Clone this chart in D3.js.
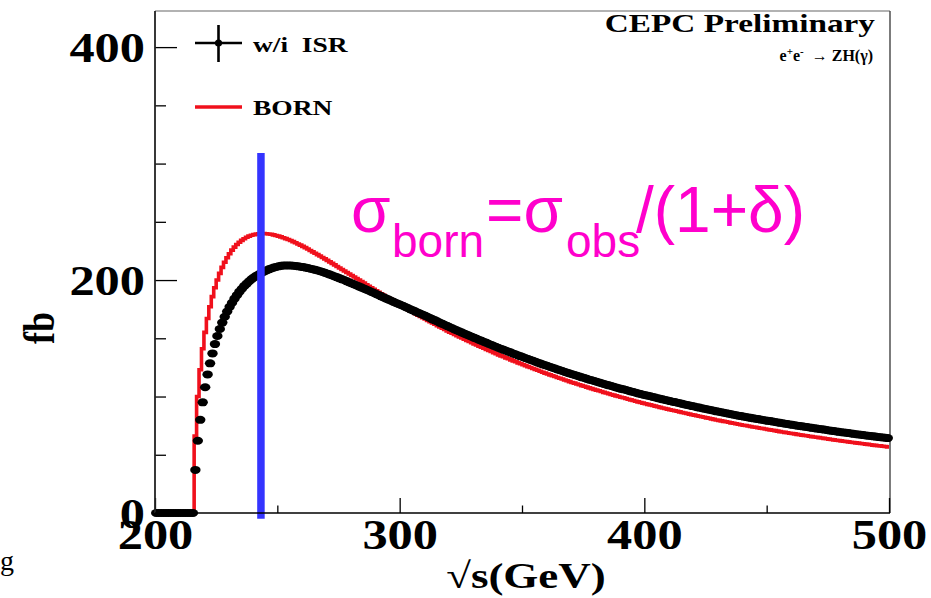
<!DOCTYPE html>
<html>
<head>
<meta charset="utf-8">
<script src="https://cdn.jsdelivr.net/npm/d3@7"></script>
<style>
  html, body { margin: 0; padding: 0; background: #fff; }
  svg { display: block; }
  .serif { font-family: "Liberation Serif", "Times New Roman", serif; font-weight: bold; }
  .sans { font-family: "Liberation Sans", Arial, sans-serif; }
</style>
</head>
<body>
<svg id="chart" width="931" height="598"></svg>
<script>
// ---- data ---------------------------------------------------------------
// 1 GeV wide bins in sqrt(s), first bin starts at 200 GeV
const binStart = 200;
const binWidth = 1;

// Born-level e+e- -> ZH cross section per bin (fb)
const bornXsec = [
  0, 0, 0, 0, 0, 0, 0, 0, 0, 0, 0, 0, 0, 0, 0, 0,
  66, 100, 123, 141.0, 155.1, 167.0, 177.1, 185.8, 193.4, 200.0,
  205.7, 210.9, 215.3, 219.2, 222.6, 225.7, 228.3, 230.5, 232.5, 234.1,
  235.5, 236.7, 237.7, 238.5, 239.0, 239.4, 239.7, 239.9, 239.9, 239.8,
  239.6, 239.3, 238.8, 238.3,
  237.7, 237.1, 236.3, 235.6, 234.8, 233.9, 233.0, 232.0, 231.0, 230.0,
  228.9, 227.8, 226.6, 225.4, 224.2, 223.0, 221.8, 220.6, 219.4, 218.2,
  216.9, 215.6, 214.3, 213.0, 211.7, 210.4, 209.1, 207.8, 206.5, 205.2,
  203.9, 202.6, 201.3, 200.0, 198.7, 197.4, 196.0, 194.7, 193.4, 192.1,
  190.8, 189.5, 188.2, 187.0, 185.7, 184.4, 183.2, 181.9, 180.7, 179.5,
  178.3, 177.1, 175.9, 174.7, 173.5, 172.3, 171.1, 169.9, 168.8, 167.6,
  166.5, 165.4, 164.2, 163.1, 162.0, 160.9, 159.7, 158.6, 157.5, 156.4,
  155.3, 154.3, 153.2, 152.2, 151.2, 150.2, 149.2, 148.2, 147.2, 146.2,
  145.2, 144.3, 143.3, 142.4, 141.4, 140.5, 139.5, 138.6, 137.6, 136.7,
  135.8, 134.9, 134.1, 133.2, 132.4, 131.5, 130.6, 129.8, 128.9, 128.1,
  127.3, 126.5, 125.7, 124.9, 124.1, 123.3, 122.5, 121.7, 120.9, 120.1,
  119.4, 118.6, 117.9, 117.2, 116.4, 115.7, 115.0, 114.2, 113.5, 112.8,
  112.1, 111.5, 110.8, 110.1, 109.4, 108.8, 108.1, 107.4, 106.8, 106.1,
  105.5, 104.9, 104.3, 103.6, 103.0, 102.4, 101.8, 101.2, 100.6, 100.0,
  99.4, 98.9, 98.3, 97.7, 97.1, 96.6, 96.0, 95.4, 94.9, 94.3,
  93.8, 93.3, 92.8, 92.3, 91.8, 91.2, 90.7, 90.2, 89.7, 89.2,
  88.7, 88.2, 87.8, 87.3, 86.8, 86.3, 85.8, 85.4, 84.9, 84.4,
  84.0, 83.5, 83.1, 82.6, 82.2, 81.7, 81.3, 80.8, 80.4, 79.9,
  79.5, 79.1, 78.7, 78.3, 77.9, 77.4, 77.0, 76.6, 76.2, 75.8,
  75.4, 75.1, 74.7, 74.3, 73.9, 73.6, 73.2, 72.8, 72.5, 72.1,
  71.7, 71.4, 71.0, 70.7, 70.3, 69.9, 69.6, 69.2, 68.9, 68.5,
  68.2, 67.9, 67.5, 67.2, 66.9, 66.6, 66.3, 65.9, 65.6, 65.3,
  65.0, 64.7, 64.4, 64.1, 63.8, 63.4, 63.1, 62.8, 62.5, 62.2,
  61.9, 61.6, 61.4, 61.1, 60.8, 60.5, 60.2, 60.0, 59.7, 59.4,
  59.1, 58.9, 58.6, 58.3, 58.1, 57.8, 57.6, 57.3, 57.1, 56.8
];

// Observed cross section including initial state radiation, per bin (fb)
const isrXsec = [
  0, 0, 0, 0, 0, 0, 0, 0, 0, 0, 0, 0, 0, 0, 0, 0,
  37, 62, 80, 95, 108, 119, 128.5, 137, 145, 152,
  158, 163.5, 168.5, 173, 177, 180.5, 184, 187, 190, 192.5,
  195, 197, 199, 200.8, 202.3, 203.8, 205, 206.2, 207.3, 208.3,
  209.2, 210, 210.7, 211.3, 211.8, 212.2, 212.5, 212.6, 212.6, 212.5,
  212.3, 212.1, 211.8, 211.5, 211.1, 210.7, 210.3, 209.8, 209.3, 208.8,
  208.2, 207.6, 206.9, 206.2, 205.5, 204.7, 203.9, 203.1, 202.3, 201.5,
  200.6, 199.8, 198.9, 198.0, 197.1, 196.2, 195.3, 194.4, 193.5, 192.6,
  191.7, 190.8, 189.8, 188.9, 187.9, 187.0, 186.0, 185.1, 184.1, 183.2,
  182.2, 181.3, 180.4, 179.5, 178.6, 177.7, 176.7, 175.8, 174.8, 173.9,
  172.9, 172.0, 171.1, 170.2, 169.3, 168.3, 167.3, 166.3, 165.4, 164.4,
  163.3, 162.4, 161.4, 160.5, 159.5, 158.6, 157.6, 156.7, 155.8, 154.9,
  154.0, 153.1, 152.2, 151.3, 150.4, 149.6, 148.6, 147.8, 146.9, 146.1,
  145.1, 144.3, 143.4, 142.5, 141.7, 140.9, 140.1, 139.3, 138.5, 137.7,
  136.8, 136.1, 135.2, 134.5, 133.7, 132.9, 132.2, 131.4, 130.7, 129.9,
  129.1, 128.4, 127.6, 126.9, 126.2, 125.4, 124.7, 124.1, 123.3, 122.6,
  121.9, 121.1, 120.5, 119.8, 119.1, 118.5, 117.8, 117.2, 116.5, 115.9,
  115.2, 114.5, 114.0, 113.3, 112.7, 112.1, 111.5, 110.8, 110.2, 109.6,
  109.0, 108.4, 107.8, 107.2, 106.6, 106.2, 105.6, 105.0, 104.4, 103.9,
  103.3, 102.7, 102.2, 101.6, 101.1, 100.7, 100.2, 99.7, 99.2, 98.6,
  98.1, 97.6, 97.1, 96.6, 96.1, 95.6, 95.2, 94.7, 94.2, 93.7,
  93.2, 92.8, 92.3, 91.8, 91.4, 90.9, 90.5, 90.0, 89.6, 89.1,
  88.7, 88.2, 87.8, 87.3, 86.9, 86.5, 86.1, 85.7, 85.3, 84.8,
  84.4, 84.0, 83.6, 83.2, 82.8, 82.5, 82.1, 81.7, 81.3, 81.0,
  80.6, 80.2, 79.9, 79.5, 79.1, 78.9, 78.5, 78.2, 77.8, 77.4,
  77.1, 76.7, 76.4, 76.0, 75.7, 75.4, 75.0, 74.7, 74.4, 74.1,
  73.8, 73.4, 73.1, 72.8, 72.5, 72.2, 71.9, 71.6, 71.3, 70.9,
  70.6, 70.3, 70.0, 69.7, 69.4, 69.1, 68.9, 68.6, 68.3, 68.0,
  67.7, 67.5, 67.2, 66.9, 66.6, 66.4, 66.1, 65.8, 65.6, 65.3,
  65.1, 64.8, 64.6, 64.3
];

const xTicksMajor = [200, 300, 400, 500];
const xTicksMinor = [250, 350, 450];
const yTicksMajor = [0, 200, 400];
const yTicksMinor = [50, 100, 150, 250, 300, 350];
const legendLabels = ["w/i  ISR", "BORN"];

// vertical marker at the operating energy (GeV), spanning fb range
const markerSqrtS = 243.3;
const markerRange = [-5, 309];

// ---- layout -------------------------------------------------------------
const svg = d3.select("#chart");
const frameL = 155, frameR = 889, frameT = 11, frameB = 513;
const stretch = 1.2;   // wide serif lettering

const x = d3.scaleLinear().domain([200, 500]).range([frameL, frameR]);
const y = d3.scaleLinear().domain([0, 431]).range([frameB, frameT]);

// frame: dark left/bottom axes, thin grey top/right border
svg.append("line").attr("x1", frameL).attr("x2", frameR + 1).attr("y1", frameT).attr("y2", frameT)
  .attr("stroke", "#666").attr("stroke-width", 1.2);
svg.append("line").attr("x1", frameR + 1).attr("x2", frameR + 1).attr("y1", frameT).attr("y2", frameB)
  .attr("stroke", "#444").attr("stroke-width", 1.4);

// ---- histogram (Born) ---------------------------------------------------
const bornPts = bornXsec.map((v, i) => [binStart + i * binWidth, v]);
bornPts.push([binStart + bornXsec.length * binWidth, bornXsec[bornXsec.length - 1]]);
const step = d3.line().curve(d3.curveStepAfter).x(d => x(d[0])).y(d => y(d[1]));
svg.append("path").datum(bornPts)
  .attr("d", step).attr("fill", "none")
  .attr("stroke", "#f0101c").attr("stroke-width", 3.6).attr("stroke-linejoin", "miter");

// ---- points (with ISR) --------------------------------------------------
svg.append("g").selectAll("ellipse").data(isrXsec).join("ellipse")
  .attr("cx", (v, i) => x(binStart + (i + 0.5) * binWidth))
  .attr("cy", v => y(v))
  .attr("rx", 5.2).attr("ry", 4.0)
  .attr("fill", "#000");

// ---- blue marker line ---------------------------------------------------
svg.append("line")
  .attr("x1", x(markerSqrtS)).attr("x2", x(markerSqrtS))
  .attr("y1", y(markerRange[0])).attr("y2", y(markerRange[1]))
  .attr("stroke", "#3434ff").attr("stroke-width", 7.5);

// ---- axes -----------------------------------------------------------------
function styleAxis(g) {
  g.select(".domain").remove();
  g.selectAll(".tick line").attr("stroke", "#000").attr("stroke-width", 1.3);
}

const yMajor = svg.append("g").attr("transform", `translate(${frameL},0)`)
  .call(d3.axisLeft(y).tickValues(yTicksMajor).tickSize(-22).tickFormat(d3.format("d")))
  .call(styleAxis);
yMajor.selectAll(".tick text")
  .attr("class", "serif").attr("x", null).attr("dy", null)
  .attr("font-size", 42).attr("fill", "#000").attr("text-anchor", "end")
  .attr("transform", `translate(-10,14) scale(${stretch},1)`);

svg.append("g").attr("transform", `translate(${frameL},0)`)
  .call(d3.axisLeft(y).tickValues(yTicksMinor).tickSize(-11).tickFormat(""))
  .call(styleAxis);

const xMajor = svg.append("g").attr("transform", `translate(0,${frameB})`)
  .call(d3.axisBottom(x).tickValues(xTicksMajor).tickSize(-15).tickFormat(d3.format("d")))
  .call(styleAxis);
xMajor.selectAll(".tick text")
  .attr("class", "serif").attr("y", null).attr("dy", null)
  .attr("font-size", 42).attr("fill", "#000").attr("text-anchor", "middle")
  .attr("transform", `translate(0,36) scale(${stretch},1)`);

svg.append("g").attr("transform", `translate(0,${frameB})`)
  .call(d3.axisBottom(x).tickValues(xTicksMinor).tickSize(-7.5).tickFormat(""))
  .call(styleAxis);

// axis lines
svg.append("line").attr("x1", frameL).attr("x2", frameL).attr("y1", frameT).attr("y2", frameB)
  .attr("stroke", "#222").attr("stroke-width", 1.8);
svg.append("line").attr("x1", frameL).attr("x2", frameR + 1).attr("y1", frameB).attr("y2", frameB)
  .attr("stroke", "#000").attr("stroke-width", 1.6);

// axis titles
svg.append("text").attr("class", "serif")
  .attr("transform", `translate(526,588) scale(1.25,1)`)
  .attr("text-anchor", "middle").attr("font-size", 36)
  .text("\u221As(GeV)");

svg.append("text").attr("class", "serif")
  .attr("transform", `translate(54,328) scale(1.25,1) rotate(-90)`)
  .attr("text-anchor", "middle").attr("font-size", 36)
  .text("fb");

// ---- legend -------------------------------------------------------------
const lg = svg.append("g");
// marker with error cross
lg.append("line").attr("x1", 195).attr("x2", 242).attr("y1", 43).attr("y2", 43)
  .attr("stroke", "#000").attr("stroke-width", 2.6);
lg.append("line").attr("x1", 218.5).attr("x2", 218.5).attr("y1", 25).attr("y2", 62)
  .attr("stroke", "#000").attr("stroke-width", 2.6);
lg.append("circle").attr("cx", 218.5).attr("cy", 43).attr("r", 3.6).attr("fill", "#000");
// Born line
lg.append("line").attr("x1", 195).attr("x2", 242).attr("y1", 107).attr("y2", 107)
  .attr("stroke", "#f0101c").attr("stroke-width", 3.6);
lg.selectAll("text.lab").data(legendLabels).join("text")
  .attr("class", "serif lab")
  .attr("font-size", 22)
  .style("white-space", "pre")
  .attr("transform", (d, i) => `translate(253,${[52, 115][i]}) scale(1.25,1)`)
  .text(d => d);

// ---- labels -------------------------------------------------------------
svg.append("text").attr("class", "serif")
  .attr("transform", `translate(875,32) scale(1.28,1)`)
  .attr("text-anchor", "end").attr("font-size", 26)
  .text("CEPC Preliminary");

const proc = svg.append("text").attr("class", "serif")
  .attr("transform", `translate(873,61)`)
  .attr("text-anchor", "end").attr("font-size", 16)
  .style("white-space", "pre");
proc.append("tspan").text("e");
proc.append("tspan").attr("font-size", 11).attr("dy", -6).text("+");
proc.append("tspan").attr("dy", 6).text("e");
proc.append("tspan").attr("font-size", 11).attr("dy", -6).text("-");
proc.append("tspan").attr("dy", 6).text("  \u2192 ZH(\u03B3)");

// formula
const fml = svg.append("g").attr("class", "sans").attr("fill", "#ff00cc");
fml.append("text").attr("x", 351).attr("y", 232).attr("font-size", 64).text("\u03C3");
fml.append("text").attr("x", 392).attr("y", 257).attr("font-size", 46).text("born");
fml.append("text").attr("x", 486).attr("y", 232).attr("font-size", 64).text("=\u03C3");
fml.append("text").attr("x", 566).attr("y", 257).attr("font-size", 46).text("obs");
fml.append("text").attr("x", 636).attr("y", 232).attr("font-size", 64).text("/(1+\u03B4)");

// stray glyph at lower left
svg.append("text").attr("x", 0).attr("y", 570)
  .attr("font-family", "Liberation Serif, serif").attr("font-size", 28).text("g");
</script>
</body>
</html>
